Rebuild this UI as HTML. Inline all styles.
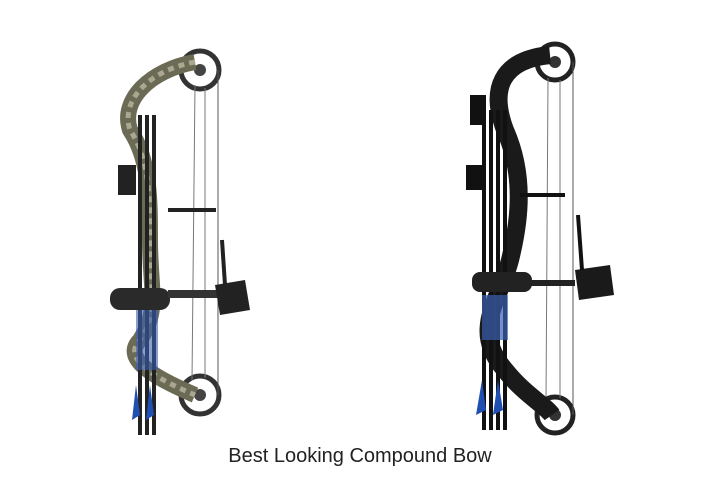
<!DOCTYPE html>
<html><head><style>
html,body{margin:0;padding:0;background:#fff;width:720px;height:480px;overflow:hidden}
.cap{position:absolute;left:0;width:720px;top:445px;text-align:center;font-family:"Liberation Sans",sans-serif;font-size:20px;color:#222}
</style></head><body>
<svg width="720" height="480" style="position:absolute;left:0;top:0">
<!-- Left bow -->
<g>
<circle cx="200" cy="70" r="19" fill="none" stroke="#333" stroke-width="5"/>
<circle cx="200" cy="70" r="6" fill="#444"/>
<circle cx="200" cy="395" r="19" fill="none" stroke="#333" stroke-width="5"/>
<circle cx="200" cy="395" r="6" fill="#444"/>
<line x1="218" y1="70" x2="218" y2="395" stroke="#555" stroke-width="1"/>
<line x1="195" y1="85" x2="192" y2="380" stroke="#777" stroke-width="1"/>
<line x1="205" y1="88" x2="205" y2="378" stroke="#777" stroke-width="1"/>
<path d="M195 62 C150 70 120 100 130 130 C150 160 150 200 150 240 C150 290 160 310 140 340 C120 360 160 380 195 395" fill="none" stroke="#6b6b55" stroke-width="16"/>
<path d="M195 62 C150 70 120 100 130 130 C150 160 150 200 150 240 C150 290 160 310 140 340 C120 360 160 380 195 395" fill="none" stroke="#a9a78f" stroke-width="5" stroke-dasharray="6 5"/>
<rect x="138" y="115" width="4" height="320" fill="#222"/>
<rect x="145" y="115" width="4" height="320" fill="#222"/>
<rect x="152" y="115" width="4" height="320" fill="#222"/>
<path d="M136 385 l-4 35 l8 -5 z M150 385 l-4 35 l8 -5 z" fill="#1f4fb0"/>
<rect x="136" y="310" width="22" height="60" fill="#3a5fb0" opacity="0.6"/>
<rect x="110" y="288" width="60" height="22" rx="10" fill="#2a2a2a"/>
<rect x="168" y="290" width="50" height="8" fill="#333"/>
<rect x="168" y="208" width="48" height="4" fill="#222"/>
<rect x="118" y="165" width="18" height="30" fill="#222"/>
<path d="M215 285 l30 -5 l5 30 l-30 5 z" fill="#222"/>
<line x1="222" y1="240" x2="225" y2="285" stroke="#222" stroke-width="4"/>
</g>
<!-- Right bow -->
<g>
<circle cx="555" cy="62" r="18" fill="none" stroke="#222" stroke-width="5"/>
<circle cx="555" cy="62" r="6" fill="#333"/>
<circle cx="555" cy="415" r="18" fill="none" stroke="#222" stroke-width="5"/>
<circle cx="555" cy="415" r="6" fill="#333"/>
<line x1="573" y1="62" x2="573" y2="415" stroke="#555" stroke-width="1"/>
<line x1="548" y1="78" x2="546" y2="400" stroke="#777" stroke-width="1"/>
<line x1="560" y1="80" x2="560" y2="398" stroke="#777" stroke-width="1"/>
<path d="M550 55 C500 60 490 90 505 130 C525 175 520 220 510 260 C500 300 470 330 505 370 C525 395 545 405 552 415" fill="none" stroke="#1a1a1a" stroke-width="18"/>
<rect x="470" y="95" width="16" height="30" fill="#111"/>
<rect x="482" y="110" width="4" height="320" fill="#111"/>
<rect x="489" y="110" width="4" height="320" fill="#111"/>
<rect x="496" y="110" width="4" height="320" fill="#111"/>
<rect x="503" y="110" width="4" height="320" fill="#111"/>
<rect x="482" y="295" width="26" height="45" fill="#3a5fb0" opacity="0.7"/>
<path d="M482 380 l-6 35 l10 -5 z M498 380 l-5 35 l10 -5 z" fill="#1f4fb0"/>
<rect x="466" y="165" width="18" height="25" fill="#111"/>
<rect x="520" y="193" width="45" height="4" fill="#111"/>
<rect x="472" y="272" width="60" height="20" rx="8" fill="#222"/>
<rect x="530" y="280" width="45" height="6" fill="#222"/>
<path d="M575 270 l35 -5 l4 30 l-35 5 z" fill="#1a1a1a"/>
<line x1="578" y1="215" x2="582" y2="270" stroke="#111" stroke-width="4"/>
</g>
</svg>
<div class="cap">Best Looking Compound Bow</div>
</body></html>
